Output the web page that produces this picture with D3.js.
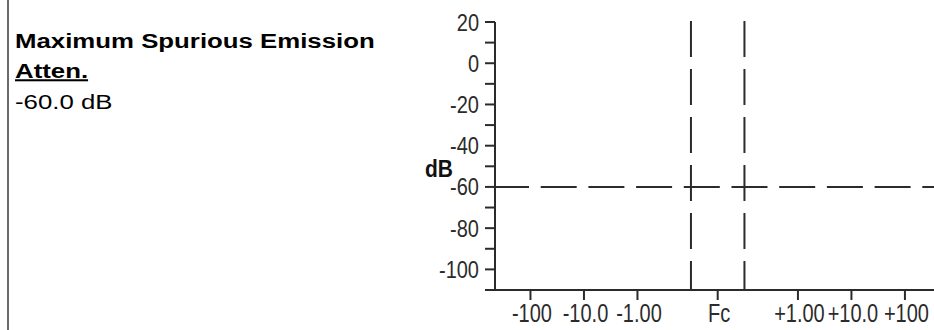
<!DOCTYPE html>
<html>
<head>
<meta charset="utf-8">
<script src="https://cdn.jsdelivr.net/npm/d3@7"></script>
<style>
  html, body { margin: 0; padding: 0; background: #fff; }
  svg { display: block; font-family: Arial, 'Liberation Sans', sans-serif; }
</style>
</head>
<body>
<div id="chart"></div>
<script>
// Spurious emission mask: attenuation level and band edges around Fc.
const yTicks = [20, 0, -20, -40, -60, -80, -100];
const yMinorTicks = [10, -10, -30, -50, -70, -90, -110];
const yDomain = [-110, 20];
const xTickValues = [-100, -10, -1, 0, 1, 10, 100];
const xTickLabels = ['-100', '-10.0', '-1.00', 'Fc', '+1.00', '+10.0', '+100'];
const bandEdges = [-0.1, 0.1];
const maxSpuriousAtten = -60;
const infoTitle = 'Maximum Spurious Emission';
const infoSubtitle = 'Atten.';
const infoValue = '-60.0 dB';

const width = 934;
const height = 330;

// Offsets from Fc are drawn on a folded log axis (decades, with a gap at Fc).
const fold = (v) => (v === 0 ? 0 : Math.sign(v) * (Math.log10(Math.abs(v)) + 1.5));

const svg = d3
  .select('#chart')
  .append('svg')
  .attr('width', width)
  .attr('height', height);

svg.append('rect').attr('width', width).attr('height', height).attr('fill', '#fff');

// Panel left border.
svg
  .append('line')
  .attr('x1', 8)
  .attr('x2', 8)
  .attr('y1', 0)
  .attr('y2', height)
  .attr('stroke', '#6a6a6a')
  .attr('stroke-width', 2);

// Info text on the left.
const info = svg.append('g').attr('fill', '#000');
info
  .append('text')
  .attr('transform', 'translate(15,48) scale(1.29,1.02)')
  .attr('font-size', 20)
  .attr('font-weight', 'bold')
  .text(infoTitle);
info
  .append('text')
  .attr('transform', 'translate(15,77.5) scale(1.29,1.02)')
  .attr('font-size', 20)
  .attr('font-weight', 'bold')
  .attr('text-decoration', 'underline')
  .text(infoSubtitle);
info
  .append('text')
  .attr('transform', 'translate(15,108.5) scale(1.29,1.02)')
  .attr('font-size', 20)
  .text(infoValue);

const x = d3.scaleLinear().domain([-4.163, 4.163]).range([495, 940.4]);
const y = d3.scaleLinear().domain(yDomain).range([290, 22]);

const ink = '#2b2b2b';
const labelFont = "Arial, 'Liberation Sans', sans-serif";

// Y axis, major ticks with labels.
const yAxis = svg
  .append('g')
  .attr('transform', `translate(${x.range()[0]},0)`)
  .style('color', ink)
  .call(
    d3
      .axisLeft(y)
      .tickValues(yTicks)
      .tickSize(10)
      .tickSizeOuter(0)
      .tickPadding(7)
      .offset(0)
      .tickFormat((d) => String(d)),
  );
yAxis.selectAll('path, line').attr('stroke-width', 2);
yAxis
  .selectAll('text')
  .attr('font-size', 20)
  .attr('font-family', labelFont)
  .attr('fill', ink)
  .attr('x', 0)
  .attr('y', 0)
  .attr('dy', null)
  .attr('transform', 'translate(-16,8.5) scale(1,1.2)');

// Y axis, minor ticks.
svg
  .append('g')
  .attr('transform', `translate(${x.range()[0]},0)`)
  .style('color', ink)
  .call(d3.axisLeft(y).tickValues(yMinorTicks).tickSize(10).tickSizeOuter(0).offset(0).tickFormat(''))
  .call((g) => g.select('.domain').remove())
  .selectAll('line')
  .attr('stroke-width', 2);

svg
  .append('text')
  .attr('transform', 'translate(439,176.5) scale(1.05,1.15)')
  .attr('text-anchor', 'middle')
  .attr('font-size', 20)
  .attr('font-weight', 'bold')
  .attr('fill', '#111')
  .text('dB');

// X axis.
const xAxis = svg
  .append('g')
  .attr('transform', `translate(0,${y(yDomain[0])})`)
  .style('color', ink)
  .call(
    d3
      .axisBottom(x)
      .tickValues(xTickValues.map(fold))
      .tickSize(10)
      .tickSizeOuter(0)
      .offset(0)
      .tickFormat((d, i) => xTickLabels[i]),
  );
xAxis.selectAll('path, line').attr('stroke-width', 2);
xAxis
  .selectAll('text')
  .attr('font-size', 20)
  .attr('font-family', labelFont)
  .attr('fill', ink)
  .attr('y', 0)
  .attr('dy', null)
  .attr('transform', 'translate(1.5,31.5) scale(1,1.27)');

// Band edge markers.
svg
  .append('g')
  .selectAll('line')
  .data(bandEdges)
  .join('line')
  .attr('x1', (d) => x(fold(d)))
  .attr('x2', (d) => x(fold(d)))
  .attr('y1', y(yDomain[1]) - 1)
  .attr('y2', y(yDomain[0]))
  .attr('stroke', ink)
  .attr('stroke-width', 2)
  .attr('stroke-dasharray', '36 12');

// Maximum spurious emission level.
svg
  .append('line')
  .attr('x1', x.range()[0] - 2)
  .attr('x2', width)
  .attr('y1', y(maxSpuriousAtten))
  .attr('y2', y(maxSpuriousAtten))
  .attr('stroke', ink)
  .attr('stroke-width', 2)
  .attr('stroke-dasharray', '36 11.7');
</script>
</body>
</html>
